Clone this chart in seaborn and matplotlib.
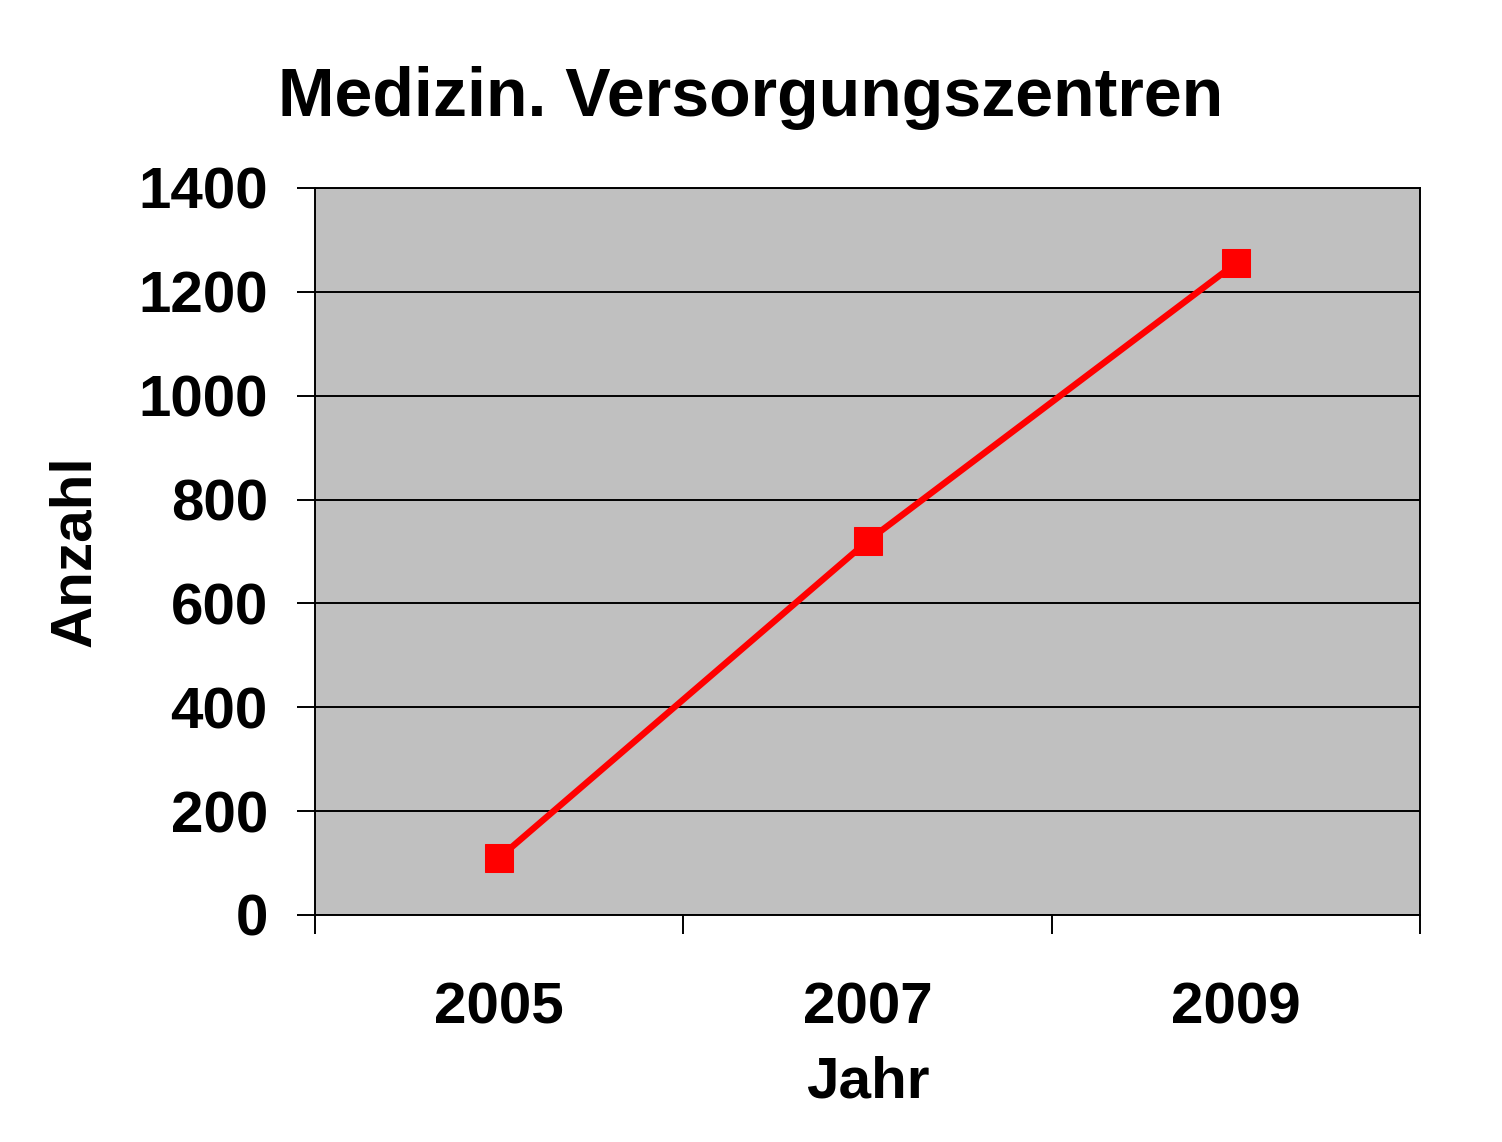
import matplotlib
matplotlib.use('Agg')
import matplotlib.pyplot as plt
import seaborn as sns
import pandas as pd

# Data
years = ['2005', '2007', '2009']
anzahl = [110, 720, 1255]
y_ticks = [0, 200, 400, 600, 800, 1000, 1200, 1400]

df = pd.DataFrame({'Jahr': years, 'Anzahl': anzahl})

sns.set_style('white')
plt.rcParams['font.family'] = ['Liberation Sans', 'DejaVu Sans']
plt.rcParams['font.weight'] = 'bold'
plt.rcParams['text.color'] = 'black'
plt.rcParams['xtick.color'] = 'black'
plt.rcParams['ytick.color'] = 'black'
plt.rcParams['axes.labelcolor'] = 'black'

fig = plt.figure(figsize=(15.02, 11.42), dpi=100)
ax = fig.add_axes([315 / 1502, 1 - 915 / 1142, 1105 / 1502, 727 / 1142])
ax.set_facecolor('#C0C0C0')

sns.lineplot(data=df, x='Jahr', y='Anzahl', ax=ax, color='#FF0000',
             linewidth=4.6, marker='s', markersize=20,
             markeredgecolor='#FF0000', sort=False)

ax.set_ylim(0, 1400)
ax.set_xlim(-0.5, len(years) - 0.5)
ax.set_yticks(y_ticks)
ax.set_yticklabels([str(t) for t in y_ticks])
ax.yaxis.grid(True, color='black', linewidth=1.4)
ax.set_axisbelow(True)

# category labels centered, tick marks between categories
ax.set_xticks(range(len(years)))
ax.set_xticklabels(years)
ax.set_xticks([i - 0.5 for i in range(len(years) + 1)], minor=True)
ax.tick_params(axis='x', which='major', length=0, pad=48, labelsize=42)
ax.tick_params(axis='x', which='minor', length=14, width=1.4, color='black',
               direction='out', bottom=True)
ax.tick_params(axis='y', length=13, width=1.4, color='black',
               direction='out', left=True, labelsize=42, pad=21)

for s in ax.spines.values():
    s.set_color('black')
    s.set_linewidth(1.4)

ax.set_xlabel('Jahr', fontsize=42, fontweight='bold')
ax.set_ylabel('Anzahl', fontsize=42, fontweight='bold')
ax.xaxis.set_label_coords(0.5, -0.193)
ax.yaxis.set_label_coords(-0.193, 0.5)

fig.text(0.5, 1 - 98 / 1142, 'Medizin. Versorgungszentren', ha='center',
         va='center', fontsize=49, fontweight='bold')

fig.savefig('out.png', dpi=100, facecolor='white')
